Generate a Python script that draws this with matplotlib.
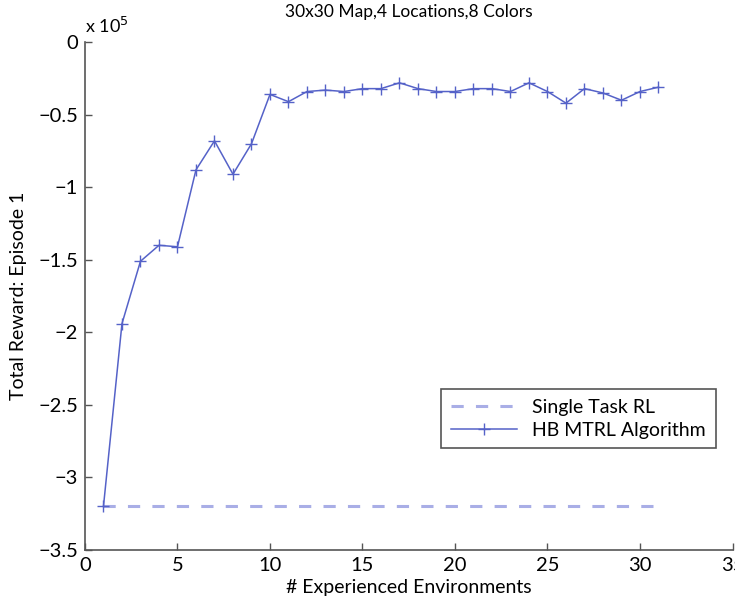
import matplotlib
matplotlib.use('Agg')
import matplotlib.pyplot as plt

plt.rcParams['font.family'] = ['Lato', 'DejaVu Sans']

# data (units of 1e5)
envs = list(range(1, 32))
hb_mtrl = [-3.20, -1.94, -1.51, -1.40, -1.41, -0.88, -0.68, -0.91, -0.70, -0.36,
           -0.41, -0.34, -0.33, -0.34, -0.32, -0.32, -0.28, -0.32, -0.34, -0.34,
           -0.32, -0.32, -0.34, -0.28, -0.34, -0.42, -0.32, -0.35, -0.40, -0.34,
           -0.31]
single_task = [-3.20] * len(envs)

xticks = [0, 5, 10, 15, 20, 25, 30, 35]
yticks = [0, -0.5, -1, -1.5, -2, -2.5, -3, -3.5]
ytick_labels = ['0', '\u22120.5', '\u22121', '\u22121.5', '\u22122', '\u22122.5', '\u22123', '\u22123.5']


def main():
    fig = plt.figure(figsize=(7.35, 6.03), dpi=100)
    ax = fig.add_axes([0.1156, 0.088, 0.881, 0.842])

    ax.plot(envs, single_task, '--', color='#a9aee6', lw=2.2, dashes=(4, 4),
            label='Single Task RL')
    ax.plot(envs, hb_mtrl, '-', marker='+', color='#5562c8', lw=1.1, ms=9,
            mew=1.0, label='HB MTRL Algorithm')

    ax.set_xlim(0, 35)
    ax.set_ylim(-3.5, 0)
    ax.set_xticks(xticks)
    ax.set_yticks(yticks)
    ax.set_yticklabels(ytick_labels)

    for side in ['top', 'right']:
        ax.spines[side].set_visible(False)
    for side in ['left', 'bottom']:
        ax.spines[side].set_color('#555555')
        ax.spines[side].set_linewidth(1.2)
    ax.tick_params(direction='in', length=5, width=1, color='#555555',
                   labelsize=14.5, pad=5)

    ax.set_xlabel('# Experienced Environments', fontsize=14, labelpad=4)
    ax.set_ylabel('Total Reward: Episode 1', fontsize=14, labelpad=8)
    ax.set_title('30x30 Map,4 Locations,8 Colors', fontsize=12.5, pad=18)
    ax.text(0.0, 1.012, r'x 10$^{5}$', transform=ax.transAxes, fontsize=13,
            ha='left', va='bottom')

    leg = ax.legend(loc='lower right', bbox_to_anchor=(0.974, 0.2), fontsize=14,
                    fancybox=False, framealpha=1, edgecolor='#555555',
                    handlelength=3.4, borderpad=0.5, labelspacing=0.3,
                    borderaxespad=0)
    leg.get_frame().set_linewidth(1.2)

    fig.savefig('out.png', dpi=100)


if __name__ == "__main__":
    main()
